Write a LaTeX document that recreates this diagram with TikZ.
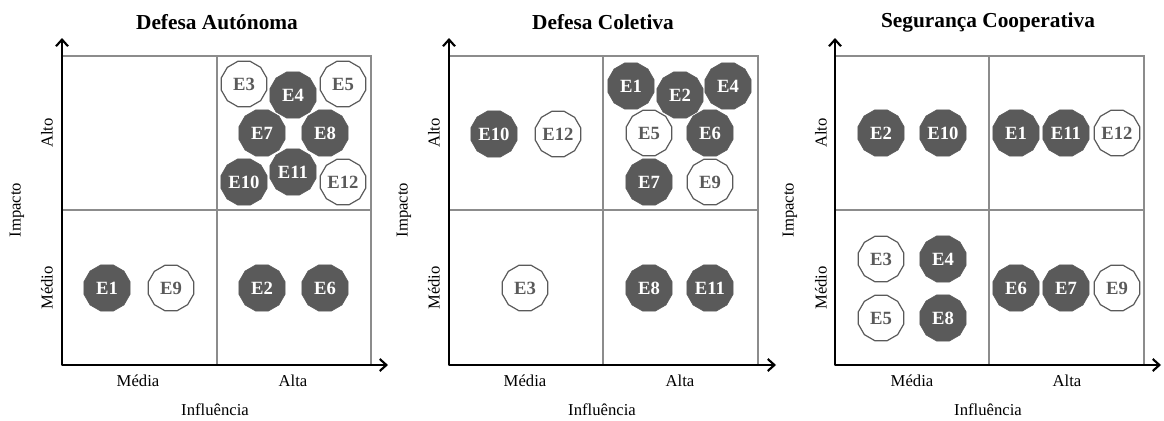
\documentclass[tikz,border=0pt]{standalone}
\usepackage{fontspec}
\setmainfont{Liberation Serif}
\usetikzlibrary{shapes.geometric,arrows.meta}
\definecolor{dk}{HTML}{5A5A5A}
\definecolor{gridc}{HTML}{8C8C8C}
\tikzset{
  full/.style={regular polygon,regular polygon sides=12,minimum size=36pt,inner sep=0pt,fill=dk,draw=dk,text=white,font=\bfseries\fontsize{14}{15}\selectfont},
  open/.style={regular polygon,regular polygon sides=12,minimum size=35.3pt,inner sep=0pt,fill=white,draw=dk,line width=0.9pt,text=dk,font=\bfseries\fontsize{14}{15}\selectfont},
  gridline/.style={draw=gridc,line width=1pt},
  axis/.style={line width=1.15pt,-{Straight Barb[length=5pt,width=9pt,line width=1.6pt]}},
  ttl/.style={font=\bfseries\fontsize{16}{18}\selectfont},
  lbl/.style={font=\fontsize{12.5}{14}\selectfont}
}
\begin{document}
\begin{tikzpicture}[x=0.75pt,y=-0.75pt]
\useasboundingbox (0,0) rectangle (1164,421);
% ---------- Panel 1 ----------
\begin{scope}[shift={(62,0)}]
\draw[gridline] (0,56) rectangle (309,365);
\draw[gridline] (155,56) -- (155,365);
\draw[gridline] (0,210) -- (309,210);
\coordinate (o1) at (0,365);
\coordinate (ty1) at (0,38);
\coordinate (tx1) at (326,365);
\draw[axis] (o1) -- (ty1);
\draw[axis] (o1) -- (tx1);
\node[ttl] (t1) at (155,22) {Defesa Autónoma};
\node[lbl] (m1) at (76,381) {Média};
\node[lbl] (h1) at (231,381) {Alta};
\node[lbl] (i1) at (153,410) {Influência};
\node[lbl,rotate=90] (al1) at (-15,133) {Alto};
\node[lbl,rotate=90] (me1) at (-15,288) {Médio};
\node[lbl,rotate=90] (im1) at (-45,210) {Impacto};
\node[full] (a1) at (45,288) {E1};
\node[open] (a9) at (109,288) {E9};
\node[full] (a2) at (200,288) {E2};
\node[full] (a6) at (263,288) {E6};
\node[open] (a3) at (182,84) {E3};
\node[full] (a4) at (231,95) {E4};
\node[open] (a5) at (281,84) {E5};
\node[full] (a7) at (200,133) {E7};
\node[full] (a8) at (263,133) {E8};
\node[full] (a11) at (231,172) {E11};
\node[full] (a10) at (182,182) {E10};
\node[open] (a12) at (281,182) {E12};
\end{scope}
% ---------- Panel 2 ----------
\begin{scope}[shift={(449,0)}]
\draw[gridline] (0,56) rectangle (309,365);
\draw[gridline] (154,56) -- (154,365);
\draw[gridline] (0,210) -- (309,210);
\coordinate (o2) at (0,365);
\coordinate (ty2) at (0,38);
\coordinate (tx2) at (327,365);
\draw[axis] (o2) -- (ty2);
\draw[axis] (o2) -- (tx2);
\node[ttl] (t2) at (154,22) {Defesa Coletiva};
\node[lbl] (m2) at (76,381) {Média};
\node[lbl] (h2) at (231,381) {Alta};
\node[lbl] (i2) at (153,410) {Influência};
\node[lbl,rotate=90] (al2) at (-15,133) {Alto};
\node[lbl,rotate=90] (me2) at (-15,288) {Médio};
\node[lbl,rotate=90] (im2) at (-45,210) {Impacto};
\node[full] (b10) at (45,134) {E10};
\node[open] (b12) at (109,134) {E12};
\node[full] (b1) at (182,86) {E1};
\node[full] (b4) at (279,86) {E4};
\node[full] (b2) at (231,95) {E2};
\node[open] (b5) at (200,133) {E5};
\node[full] (b6) at (261,133) {E6};
\node[full] (b7) at (200,182) {E7};
\node[open] (b9) at (261,182) {E9};
\node[open] (b3) at (76,288) {E3};
\node[full] (b8) at (200,288) {E8};
\node[full] (b11) at (261,288) {E11};
\end{scope}
% ---------- Panel 3 ----------
\begin{scope}[shift={(835,0)}]
\draw[gridline] (0,56) rectangle (309,365);
\draw[gridline] (154,56) -- (154,365);
\draw[gridline] (0,210) -- (309,210);
\coordinate (o3) at (0,365);
\coordinate (ty3) at (0,38);
\coordinate (tx3) at (326,365);
\draw[axis] (o3) -- (ty3);
\draw[axis] (o3) -- (tx3);
\node[ttl] (t3) at (153,22) {Segurança Cooperativa};
\node[lbl] (m3) at (77,381) {Média};
\node[lbl] (h3) at (232,381) {Alta};
\node[lbl] (i3) at (153,410) {Influência};
\node[lbl,rotate=90] (al3) at (-14,133) {Alto};
\node[lbl,rotate=90] (me3) at (-14,288) {Médio};
\node[lbl,rotate=90] (im3) at (-45,210) {Impacto};
\node[full] (c2) at (46,133) {E2};
\node[full] (c10) at (108,133) {E10};
\node[full] (c1) at (181,133) {E1};
\node[full] (c11) at (231,133) {E11};
\node[open] (c12) at (282,133) {E12};
\node[open] (c3) at (46,259) {E3};
\node[full] (c4) at (108,259) {E4};
\node[open] (c5) at (46,318) {E5};
\node[full] (c8) at (108,318) {E8};
\node[full] (c6) at (181,288) {E6};
\node[full] (c7) at (231,288) {E7};
\node[open] (c9) at (282,288) {E9};
\end{scope}
\end{tikzpicture}
\end{document}
